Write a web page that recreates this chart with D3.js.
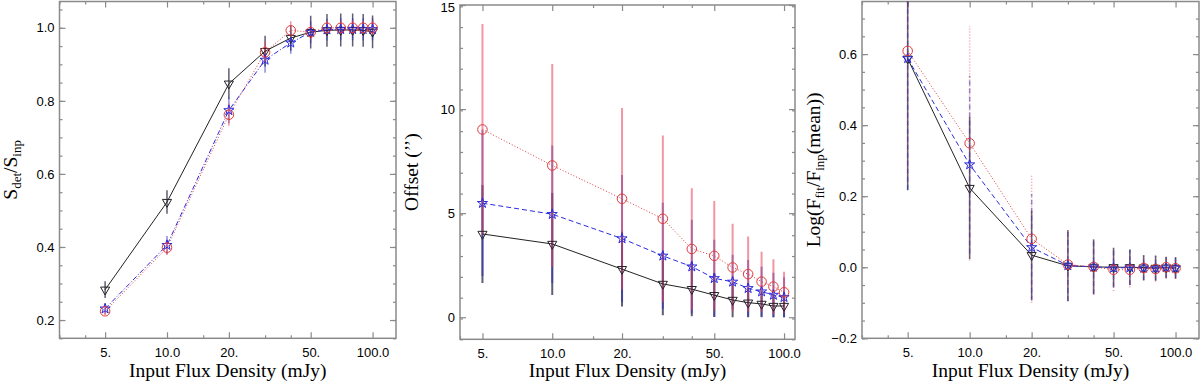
<!DOCTYPE html>
<html>
<head>
<meta charset="utf-8">
<script src="https://cdn.jsdelivr.net/npm/d3@7"></script>
<style>
  body { margin: 0; background: #fff; }
  svg { display: block; font-family: "Liberation Serif", "DejaVu Serif", serif; }
  .tick text { font-size: 13px; fill: #000; }
  .tick line { stroke: #8a8a8a; stroke-width: 1.2; }
</style>
</head>
<body>
<div id="chart"></div>
<script>
// Input flux densities (mJy), shared by the three panels
var flux = [5, 10, 20, 30, 40, 50, 60, 70, 80, 90, 100];
var xTickValues = [5, 10, 20, 50, 100];
var xTickLabels = ["5.", "10.0", "20.", "50.", "100.0"];
var xMinorTicks = [3, 4, 15, 30, 40];

// Panel 1: S_det / S_inp
var ratioBlack    = [0.283, 0.523, 0.847, 0.936, 0.972, 0.988, 0.993, 0.994, 0.994, 0.993, 0.989];
var ratioBlackErr = [0.023, 0.032, 0.042, 0.042, 0.035, 0.045, 0.045, 0.045, 0.045, 0.045, 0.045];
var ratioBlue     = [0.231, 0.405, 0.774, 0.912, 0.959, 0.988, 0.995, 0.996, 0.996, 0.996, 0.996];
var ratioBlueErr  = [0.015, 0.025, 0.035, 0.035, 0.03, 0.03, 0.03, 0.03, 0.03, 0.03, 0.03];
var ratioRed      = [0.224, 0.398, 0.762, 0.933, 0.993, 0.988, 1.0, 1.0, 1.0, 1.0, 1.0];
var ratioRedErr   = [0.01, 0.02, 0.03, 0.03, 0.025, 0.02, 0.02, 0.02, 0.02, 0.02, 0.02];
var ratioTicks  = [0.2, 0.4, 0.6, 0.8, 1.0];
var ratioLabels = ["0.2", "0.4", "0.6", "0.8", "1.0"];

// Panel 2: positional offset (arcsec)
var offsetBlack    = [4.0, 3.52, 2.31, 1.60, 1.35, 1.06, 0.83, 0.70, 0.64, 0.54, 0.54];
var offsetBlackErr = [2.35, 2.45, 1.8, 1.5, 1.3, 1.05, 0.83, 0.7, 0.64, 0.54, 0.54];
var offsetBlue     = [5.48, 4.95, 3.78, 2.95, 2.43, 1.87, 1.70, 1.39, 1.23, 1.07, 0.96];
var offsetBlueErr  = [3.5, 3.3, 3.05, 2.55, 2.25, 1.85, 1.3, 1.36, 1.2, 1.07, 0.96];
var offsetRed      = [9.02, 7.29, 5.69, 4.73, 3.28, 2.95, 2.39, 2.07, 1.71, 1.47, 1.20];
var offsetRedErr   = [5.07, 4.87, 4.36, 4.0, 2.92, 2.64, 2.1, 1.81, 1.44, 1.32, 0.99];
var offsetTicks  = [0, 5, 10, 15];
var offsetLabels = ["0", "5", "10", "15"];

// Panel 3: Log(F_fit / F_inp(mean))
var logBlack    = [0.587, 0.223, 0.034, 0.004, 0.001, 0.0, 0.0, -0.001, -0.002, -0.001, -0.002];
var logBlackErr = [0.37, 0.2, 0.125, 0.1, 0.077, 0.055, 0.05, 0.035, 0.035, 0.03, 0.03];
var logBlue     = [0.588, 0.289, 0.056, 0.005, 0.001, -0.002, -0.001, -0.002, -0.003, -0.001, -0.002];
var logBlueErr  = [0.37, 0.25, 0.15, 0.1, 0.077, 0.055, 0.05, 0.035, 0.035, 0.03, 0.03];
var logRed      = [0.609, 0.349, 0.080, 0.0075, 0.001, -0.007, -0.007, -0.002, -0.005, 0.0, -0.003];
var logRedErr   = [0.37, 0.33, 0.18, 0.1, 0.077, 0.06, 0.05, 0.035, 0.035, 0.03, 0.03];
var logTicks  = [-0.2, 0.0, 0.2, 0.4, 0.6];
var logLabels = ["\u22120.2", "0.0", "0.2", "0.4", "0.6"];

var svg = d3.select("#chart").append("svg")
  .attr("width", 1200)
  .attr("height", 384);

function drawPanel(p, idx) {
  var x = d3.scaleLog().domain(p.xDomain).range([p.left, p.right]);
  var y = d3.scaleLinear().domain(p.yDomain).range([p.bottom, p.top]);
  var g = svg.append("g");

  g.append("clipPath").attr("id", "clip" + idx)
    .append("rect")
      .attr("x", p.left).attr("y", p.top)
      .attr("width", p.right - p.left).attr("height", p.bottom - p.top);

  // minor ticks, all four sides
  var yMinor = d3.range(p.yDomain[0], p.yDomain[1] + 1e-9, p.yMinorStep)
    .map(function(v) { return Math.round(v * 1000) / 1000; });
  var xMinor = xMinorTicks.filter(function(v) { return v >= p.xDomain[0]; });
  g.append("g").attr("transform", "translate(0," + p.bottom + ")")
    .call(d3.axisBottom(x).tickValues(xMinor).tickSize(-3).tickFormat(""));
  g.append("g").attr("transform", "translate(0," + p.top + ")")
    .call(d3.axisTop(x).tickValues(xMinor).tickSize(-3).tickFormat(""));
  g.append("g").attr("transform", "translate(" + p.left + ",0)")
    .call(d3.axisLeft(y).tickValues(yMinor).tickSize(-3).tickFormat(""));
  g.append("g").attr("transform", "translate(" + p.right + ",0)")
    .call(d3.axisRight(y).tickValues(yMinor).tickSize(-3).tickFormat(""));

  // major ticks with labels
  g.append("g").attr("transform", "translate(0," + p.bottom + ")")
    .call(d3.axisBottom(x).tickValues(xTickValues).tickSize(-6).tickPadding(9)
      .tickFormat(function(d, i) { return xTickLabels[i]; }));
  g.append("g").attr("transform", "translate(0," + p.top + ")")
    .call(d3.axisTop(x).tickValues(xTickValues).tickSize(-6).tickFormat(""));
  var yAxis = g.append("g").attr("transform", "translate(" + p.left + ",0)")
    .call(d3.axisLeft(y).tickValues(p.yTicks).tickSize(-6).tickPadding(5)
      .tickFormat(function(d, i) { return p.yLabels[i]; }));
  // keep a label that sits on the top edge inside the picture
  yAxis.selectAll(".tick text")
    .attr("y", function(d) { return y(d) - p.top < 6 ? 2 : 0; });
  g.append("g").attr("transform", "translate(" + p.right + ",0)")
    .call(d3.axisRight(y).tickValues(p.yTicks).tickSize(-6).tickFormat(""));

  g.selectAll(".domain").remove();

  // frame
  g.append("rect")
    .attr("x", p.left).attr("y", p.top)
    .attr("width", p.right - p.left).attr("height", p.bottom - p.top)
    .attr("fill", "none").attr("stroke", "#8a8a8a").attr("stroke-width", 1.5);

  var plot = g.append("g").attr("clip-path", "url(#clip" + idx + ")");

  // error bars
  p.series.forEach(function(s) {
    plot.selectAll(null)
      .data(flux)
      .enter()
      .append("line")
        .attr("x1", function(d) { return x(d); })
        .attr("x2", function(d) { return x(d); })
        .attr("y1", function(d, i) { return y(s.values[i] - s.errors[i]); })
        .attr("y2", function(d, i) { return y(s.values[i] + s.errors[i]); })
        .attr("stroke", s.barColor)
        .attr("stroke-opacity", s.barOpacity)
        .attr("stroke-width", p.barWidth)
        .attr("stroke-dasharray", p.dashedBars ? s.dash : null);
  });

  // lines
  p.series.forEach(function(s) {
    var line = d3.line()
      .x(function(d) { return x(d); })
      .y(function(d, i) { return y(s.values[i]); });
    plot.append("path")
      .datum(flux)
      .attr("d", line)
      .attr("fill", "none")
      .attr("stroke", s.color)
      .attr("stroke-width", 1)
      .attr("stroke-dasharray", s.dash);
  });

  // markers
  p.series.forEach(function(s) {
    plot.selectAll(null)
      .data(flux)
      .enter()
      .append("path")
        .attr("d", d3.symbol().type(s.symbol).size(s.size))
        .attr("transform", function(d, i) {
          return "translate(" + x(d) + "," + y(s.values[i]) + ")" + (s.flip ? " rotate(180)" : "");
        })
        .attr("fill", "none")
        .attr("stroke", s.color)
        .attr("stroke-width", 1);
  });

  // x title
  g.append("text")
    .attr("x", (p.left + p.right) / 2)
    .attr("y", 377)
    .attr("text-anchor", "middle")
    .attr("font-size", "19.5px")
    .text("Input Flux Density (mJy)");

  // y title
  var yt = g.append("text")
    .attr("transform", "translate(" + p.yTitleX + "," + ((p.top + p.bottom) / 2) + ") rotate(-90)")
    .attr("text-anchor", "middle")
    .attr("font-size", "19.5px");
  p.yTitle.forEach(function(part) {
    yt.append("tspan")
      .attr("font-size", part.sub ? "13px" : "19.5px")
      .attr("dy", part.dy || 0)
      .text(part.t);
  });
}

function seriesSet(black, blackErr, blue, blueErr, red, redErr, blueDash) {
  return [
    { values: black, errors: blackErr, color: "#222", barColor: "#1a1a3a", barOpacity: 0.7,
      dash: null, symbol: d3.symbolTriangle, size: 36, flip: true },
    { values: blue, errors: blueErr, color: "#2a2ae0", barColor: "#3030b0", barOpacity: 0.55,
      dash: blueDash, symbol: d3.symbolStar, size: 32, flip: false },
    { values: red, errors: redErr, color: "#e03a3a", barColor: "#e8405a", barOpacity: 0.55,
      dash: "1,2", symbol: d3.symbolCircle, size: 72, flip: false }
  ];
}

var panels = [
  { left: 59.5, right: 396, top: 1.5, bottom: 338.3, xDomain: [3, 130], yDomain: [0.15, 1.072],
    yMinorStep: 0.05, yTicks: ratioTicks, yLabels: ratioLabels, yTitleX: 17, barWidth: 1.5, dashedBars: false,
    series: seriesSet(ratioBlack, ratioBlackErr, ratioBlue, ratioBlueErr, ratioRed, ratioRedErr, "5,2,1,2"),
    yTitle: [{ t: "S" }, { t: "det", sub: true, dy: 4 }, { t: "/S", dy: -4 }, { t: "inp", sub: true, dy: 4 }] },
  { left: 460, right: 795, top: 5, bottom: 339.3, xDomain: [4, 111.5], yDomain: [-1.06, 15],
    yMinorStep: 1, yTicks: offsetTicks, yLabels: offsetLabels, yTitleX: 418, barWidth: 2, dashedBars: false,
    series: seriesSet(offsetBlack, offsetBlackErr, offsetBlue, offsetBlueErr, offsetRed, offsetRedErr, "5,3"),
    yTitle: [{ t: "Offset (\u2019\u2019)" }] },
  { left: 862, right: 1199, top: 1.5, bottom: 338.3, xDomain: [3, 130], yDomain: [-0.2, 0.748],
    yMinorStep: 0.05, yTicks: logTicks, yLabels: logLabels, yTitleX: 820, barWidth: 1.5, dashedBars: true,
    series: seriesSet(logBlack, logBlackErr, logBlue, logBlueErr, logRed, logRedErr, "5,3"),
    yTitle: [{ t: "Log(F" }, { t: "fit", sub: true, dy: 4 }, { t: "/F", dy: -4 }, { t: "inp", sub: true, dy: 4 }, { t: "(mean))", dy: -4 }] }
];

panels.forEach(drawPanel);
</script>
</body>
</html>
